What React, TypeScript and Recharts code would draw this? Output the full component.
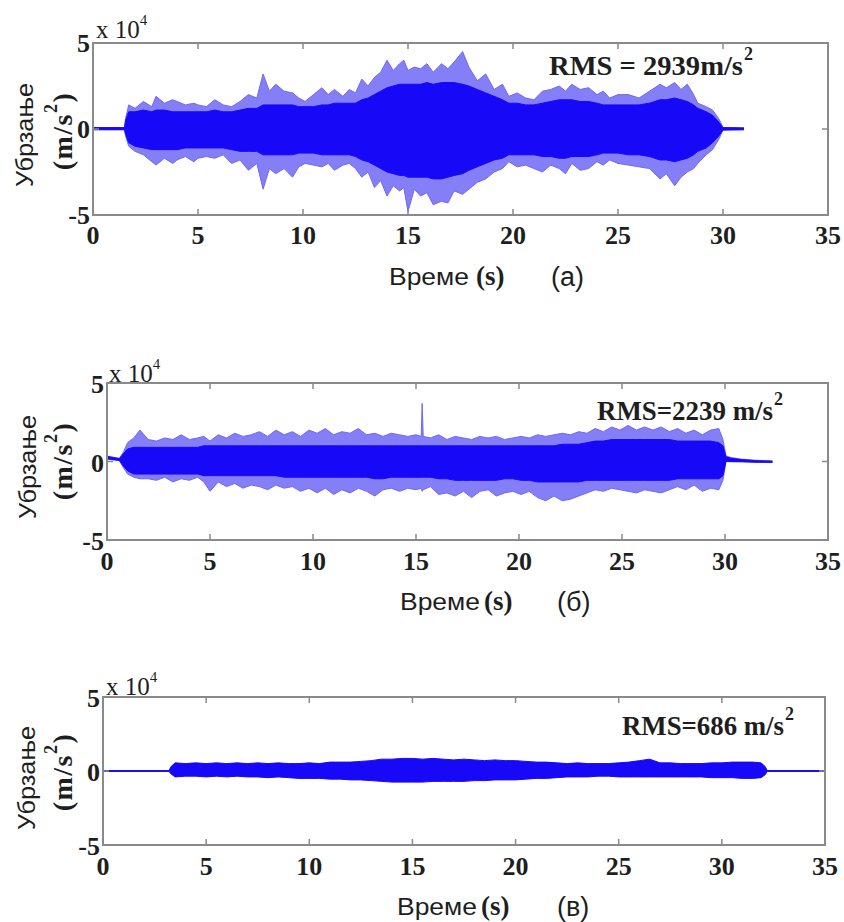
import React from 'react';
import { ComposedChart, Area, XAxis, YAxis, ReferenceArea } from 'recharts';

// ---------- Panel (а) : values in units of 10^4 m/s^2 ----------
const timeA = [
  0, 1.5, 1.55, 1.7, 2.0, 2.4, 2.8, 3.0, 3.4, 3.8,
  4.0, 4.4, 4.8, 5.0, 5.4, 5.8, 6.2, 6.6, 7.0, 7.4,
  7.8, 8.1, 8.4, 8.7, 9.1, 9.5, 9.8, 10.1, 10.5, 10.9,
  11.2, 11.5, 11.9, 12.2, 12.5, 12.8, 13.1, 13.4, 13.7, 14.0,
  14.3, 14.6, 14.8, 15.0, 15.3, 15.6, 15.9, 16.2, 16.6, 16.9,
  17.2, 17.6, 17.9, 18.3, 18.7, 19.1, 19.5, 19.8, 20.2, 20.6,
  21.0, 21.4, 21.8, 22.2, 22.5, 22.8, 23.2, 23.6, 24.0, 24.3,
  24.6, 25.0, 25.5, 26.0, 26.5, 27.0, 27.3, 27.7, 28.0, 28.3,
  28.6, 28.8, 29.2, 29.5, 29.8, 30.0, 31.0,
];
const peakHighA = [
  0.08, 0.08, 0.6, 1.4, 1.2, 1.6, 1.3, 1.9, 1.5, 1.7,
  1.6, 1.4, 1.5, 1.4, 1.3, 1.7, 1.4, 1.3, 1.6, 2.0,
  1.8, 3.2, 2.2, 2.6, 2.2, 2.1, 1.8, 1.6, 2.0, 2.4,
  2.0, 2.3, 1.9, 2.3, 2.1, 2.9, 2.5, 3.0, 3.3, 4.0,
  3.4, 3.8, 4.0, 3.4, 3.6, 3.5, 3.8, 3.3, 3.8, 3.5,
  3.9, 4.5, 3.6, 2.8, 3.2, 2.3, 2.6, 1.9, 2.1, 1.8,
  1.7, 2.2, 2.3, 2.5, 2.2, 2.6, 2.3, 2.4, 2.0, 2.2,
  1.8, 2.0, 2.0, 1.8, 2.2, 2.6, 2.4, 2.7, 2.3, 2.6,
  2.0, 1.5, 1.3, 1.1, 0.6, 0.08, 0.06,
];
const peakLowA = [
  -0.04, -0.04, -0.4, -1.0, -1.3, -1.5, -1.9, -2.1, -1.7, -2.0,
  -1.8, -1.6, -1.9, -1.7, -1.6, -1.7, -1.5, -2.0, -1.8, -2.4,
  -2.0, -3.5, -2.3, -2.6, -2.3, -2.8, -2.2, -2.0, -2.1, -2.2,
  -2.0, -2.4, -2.1, -2.0, -2.3, -2.8, -2.5, -3.4, -3.0, -3.9,
  -3.3, -3.6, -3.4, -4.8, -3.5, -3.9, -3.7, -4.4, -4.2, -4.3,
  -3.6, -3.8, -3.5, -3.1, -2.9, -2.5, -2.3, -1.9, -2.2, -2.1,
  -2.3, -2.5, -2.1, -2.3, -2.6, -2.0, -2.4, -2.3, -1.9, -2.1,
  -1.8, -2.0, -2.1, -2.2, -2.3, -2.9, -2.6, -3.3, -2.8, -2.5,
  -2.3, -2.0, -1.5, -1.2, -0.6, -0.06, -0.04,
];
const bandHighA = [
  0.08, 0.08, 0.5, 1.0, 1.0, 1.1, 1.0, 1.1, 1.1, 1.0,
  1.0, 1.0, 1.0, 1.0, 1.0, 1.1, 1.0, 1.0, 1.1, 1.2,
  1.2, 1.4, 1.4, 1.4, 1.4, 1.4, 1.3, 1.3, 1.3, 1.4,
  1.4, 1.5, 1.5, 1.5, 1.5, 1.7, 1.8, 2.0, 2.2, 2.4,
  2.5, 2.6, 2.6, 2.6, 2.6, 2.6, 2.7, 2.6, 2.7, 2.7,
  2.7, 2.6, 2.5, 2.3, 2.1, 1.9, 1.7, 1.5, 1.5, 1.4,
  1.4, 1.5, 1.6, 1.7, 1.7, 1.7, 1.6, 1.6, 1.5, 1.4,
  1.4, 1.4, 1.4, 1.4, 1.5, 1.7, 1.7, 1.8, 1.7, 1.6,
  1.4, 1.2, 1.0, 0.8, 0.4, 0.08, 0.06,
];
const bandLowA = [
  -0.04, -0.04, -0.3, -0.8, -1.0, -1.1, -1.2, -1.2, -1.2, -1.2,
  -1.2, -1.1, -1.1, -1.1, -1.1, -1.1, -1.1, -1.2, -1.3, -1.3,
  -1.3, -1.5, -1.5, -1.5, -1.5, -1.5, -1.4, -1.4, -1.4, -1.5,
  -1.5, -1.5, -1.5, -1.5, -1.6, -1.8, -1.9, -2.1, -2.3, -2.5,
  -2.6, -2.7, -2.7, -2.8, -2.8, -2.8, -2.8, -2.9, -2.9, -2.8,
  -2.7, -2.6, -2.4, -2.2, -2.0, -1.8, -1.7, -1.5, -1.5, -1.5,
  -1.5, -1.6, -1.6, -1.7, -1.7, -1.6, -1.6, -1.6, -1.5, -1.4,
  -1.4, -1.4, -1.5, -1.5, -1.6, -1.8, -1.8, -1.9, -1.8, -1.7,
  -1.5, -1.3, -1.1, -0.8, -0.4, -0.06, -0.04,
];

// ---------- Panel (б) ----------
const timeB = [
  0, 0.6, 0.8, 1.0, 1.3, 1.6, 2.0, 2.4, 2.8, 3.2,
  3.6, 4.0, 4.4, 4.7, 5.0, 5.4, 5.8, 6.2, 6.6, 7.0,
  7.4, 7.8, 8.2, 8.6, 9.0, 9.4, 9.8, 10.2, 10.6, 11.0,
  11.4, 11.8, 12.2, 12.6, 13.0, 13.4, 13.8, 14.2, 14.6, 15.0,
  15.25, 15.3, 15.35, 15.7, 16.1, 16.5, 16.9, 17.3, 17.7, 18.1,
  18.5, 18.9, 19.3, 19.7, 20.1, 20.5, 20.9, 21.3, 21.7, 22.1,
  22.5, 22.9, 23.3, 23.7, 24.1, 24.5, 24.9, 25.3, 25.7, 26.1,
  26.5, 26.9, 27.3, 27.7, 28.1, 28.5, 28.9, 29.3, 29.7, 29.9,
  30.05, 30.3, 30.8, 31.5, 32.3,
];
const peakHighB = [
  0.35, 0.2, 0.6, 1.2, 1.5, 2.0, 1.4, 1.3, 1.5, 1.4,
  1.7, 1.4, 1.5, 1.6, 1.3, 1.7, 1.5, 1.8, 1.6, 1.7,
  1.9, 1.6, 2.0, 1.7, 1.9, 1.6, 2.0, 1.8, 2.1, 1.7,
  1.9, 1.8, 2.1, 1.7, 1.8, 1.6, 1.8, 1.7, 1.6, 1.7,
  1.6, 3.7, 1.6, 1.5, 1.7, 1.4, 1.6, 1.5, 1.4, 1.6,
  1.5, 1.6, 1.4, 1.5, 1.6, 1.5, 1.7, 1.6, 1.7, 1.8,
  1.7, 1.9, 1.8, 2.1, 1.9, 2.2, 2.0, 2.3, 2.0, 2.2,
  2.0, 2.2, 1.9, 2.1, 1.8, 2.0, 1.7, 2.0, 2.1, 1.4,
  0.35, 0.25, 0.15, 0.08, 0.04,
];
const peakLowB = [
  0.15, 0.05, -0.4, -0.8, -1.0, -1.1, -1.1, -1.2, -1.0, -1.3,
  -1.1, -1.2, -1.0, -1.3, -1.9, -1.3, -1.6, -1.4, -1.7, -1.5,
  -1.6, -1.8, -1.5, -1.7, -1.6, -1.9, -1.7, -2.0, -1.7, -2.1,
  -1.8, -2.0, -1.7, -1.9, -2.2, -1.8, -1.7, -1.9, -1.7, -1.8,
  -1.7, -1.9, -1.8, -1.6, -2.1, -2.0, -2.2, -1.9, -2.3, -1.9,
  -1.8, -2.2, -2.0, -1.9, -2.1, -1.9, -2.3, -2.5, -2.2, -2.5,
  -2.4, -2.2, -2.0, -1.8, -1.9, -1.7, -1.8, -1.9, -2.0, -1.8,
  -1.9, -2.0, -1.8, -1.6, -1.8, -1.5, -1.9, -1.7, -1.8, -1.2,
  0.0, -0.02, -0.02, -0.05, -0.06,
];
const bandHighB = [
  0.32, 0.18, 0.5, 0.8, 0.9, 0.9, 0.9, 0.9, 0.9, 0.9,
  0.9, 0.9, 0.9, 1.0, 1.0, 1.0, 1.0, 1.0, 1.0, 1.0,
  1.0, 1.0, 1.0, 1.0, 1.0, 1.0, 1.0, 1.0, 1.0, 1.0,
  1.0, 1.0, 1.0, 1.0, 1.0, 1.0, 1.0, 1.0, 1.0, 1.0,
  1.0, 1.0, 1.0, 1.0, 1.0, 1.0, 1.0, 1.0, 1.0, 1.0,
  1.0, 1.0, 1.0, 1.0, 1.0, 1.0, 1.0, 1.0, 1.0, 1.1,
  1.1, 1.1, 1.2, 1.3, 1.3, 1.4, 1.4, 1.4, 1.4, 1.4,
  1.4, 1.4, 1.4, 1.3, 1.3, 1.3, 1.3, 1.3, 1.2, 1.0,
  0.3, 0.2, 0.12, 0.05, 0.02,
];
const bandLowB = [
  0.18, 0.07, -0.3, -0.6, -0.8, -0.8, -0.8, -0.8, -0.8, -0.8,
  -0.8, -0.8, -0.8, -0.9, -0.9, -0.9, -0.9, -0.9, -0.9, -0.9,
  -0.9, -0.9, -0.9, -1.0, -1.0, -1.0, -1.0, -1.0, -1.0, -1.0,
  -1.0, -1.0, -1.0, -1.0, -1.1, -1.1, -1.0, -1.0, -1.0, -1.0,
  -1.0, -1.0, -1.0, -1.0, -1.1, -1.1, -1.2, -1.2, -1.2, -1.2,
  -1.2, -1.2, -1.1, -1.1, -1.2, -1.2, -1.3, -1.3, -1.3, -1.3,
  -1.3, -1.3, -1.2, -1.2, -1.2, -1.2, -1.2, -1.2, -1.2, -1.2,
  -1.2, -1.2, -1.2, -1.1, -1.1, -1.1, -1.1, -1.1, -1.1, -0.9,
  0.02, 0.0, -0.01, -0.04, -0.05,
];

// ---------- Panel (в) ----------
const timeC = [
  0, 3.2, 3.3, 3.5, 4.0, 4.5, 5.0, 5.5, 6.0, 6.5,
  7.0, 7.5, 8.0, 8.5, 9.0, 9.5, 10.0, 10.5, 11.0, 11.5,
  12.0, 12.5, 13.0, 13.5, 14.0, 14.5, 15.0, 15.5, 16.0, 16.5,
  17.0, 17.5, 18.0, 18.5, 19.0, 19.5, 20.0, 20.5, 21.0, 21.5,
  22.0, 22.5, 23.0, 23.5, 24.0, 24.5, 25.0, 25.5, 26.0, 26.5,
  27.0, 27.5, 28.0, 28.5, 29.0, 29.5, 30.0, 30.5, 31.0, 31.5,
  31.9, 32.1, 32.2, 35,
];
const peakHighC = [
  0.03, 0.03, 0.3, 0.55, 0.5, 0.55, 0.5, 0.55, 0.5, 0.55,
  0.5, 0.55, 0.5, 0.55, 0.5, 0.5, 0.55, 0.5, 0.6, 0.6,
  0.6, 0.65, 0.7, 0.8, 0.8, 0.85, 0.85, 0.8, 0.85, 0.8,
  0.75, 0.8, 0.75, 0.7, 0.75, 0.7, 0.7, 0.65, 0.6, 0.6,
  0.55, 0.5, 0.55, 0.5, 0.5, 0.5, 0.55, 0.6, 0.7, 0.8,
  0.55, 0.55, 0.5, 0.5, 0.5, 0.55, 0.55, 0.6, 0.6, 0.6,
  0.55, 0.3, 0.03, 0.03,
];
const peakLowC = [
  -0.03, -0.03, -0.2, -0.4, -0.35, -0.35, -0.4, -0.35, -0.4, -0.35,
  -0.4, -0.4, -0.45, -0.4, -0.45, -0.5, -0.5, -0.5, -0.55, -0.55,
  -0.6, -0.6, -0.65, -0.7, -0.75, -0.75, -0.75, -0.75, -0.7, -0.7,
  -0.7, -0.7, -0.65, -0.65, -0.6, -0.6, -0.6, -0.55, -0.5, -0.5,
  -0.45, -0.4, -0.4, -0.4, -0.35, -0.35, -0.4, -0.4, -0.4, -0.4,
  -0.4, -0.4, -0.4, -0.4, -0.4, -0.45, -0.45, -0.45, -0.5, -0.5,
  -0.45, -0.25, -0.03, -0.03,
];

const xTicks = [0, 5, 10, 15, 20, 25, 30, 35];
const yTicks = [-5, 0, 5];

const BLUE_CORE = '#1808f8';
const BLUE_OUTER = '#6e68f6';
const BOX = '#8a8a8a';
const INK = '#1e1e1e';
const SERIF = "'Liberation Serif', 'Times New Roman', serif";
const SANS = "'Liberation Sans', Arial, sans-serif";

type Box = { left: number; right: number; top: number; bottom: number };

function buildRows(t: number[], hi: number[], lo: number[], bhi?: number[], blo?: number[]) {
  return t.map((time, i) => ({
    t: time,
    outer: [lo[i], hi[i]],
    core: bhi && blo ? [blo[i], bhi[i]] : null,
  }));
}

function Panel(props: {
  top: number;
  height: number;
  box: Box;
  rows: any[];
  hasCore: boolean;
  tickFont: number;
  xTickMargin: number;
  yShift: number;
  outerColor: string;
  outerOpacity: number;
}) {
  const { top, height, box, rows, hasCore, tickFont, xTickMargin, yShift, outerColor, outerOpacity } = props;
  const yAxisW = 40;
  const xAxisH = 30;
  const relTop = box.top - top;
  const relBottom = box.bottom - top;
  const margin = {
    top: relTop,
    left: box.left - yAxisW,
    right: 844 - box.right,
    bottom: height - relBottom - xAxisH,
  };

  const xTick = (p: any) => {
    const { x, y, payload } = p;
    return (
      <g>
        <line x1={x} x2={x} y1={relBottom} y2={relBottom - 6} stroke={BOX} strokeWidth={1.5} />
        <line x1={x} x2={x} y1={relTop} y2={relTop + 6} stroke={BOX} strokeWidth={1.5} />
        <text x={x} y={y} dy="0.71em" textAnchor="middle" fontFamily={SERIF} fontWeight="bold" fontSize={tickFont} fill={INK}>
          {payload.value}
        </text>
      </g>
    );
  };
  const yTick = (p: any) => {
    const { y, payload } = p;
    return (
      <g>
        <line x1={box.left} x2={box.left + 6} y1={y} y2={y} stroke={BOX} strokeWidth={1.5} />
        <line x1={box.right} x2={box.right - 6} y1={y} y2={y} stroke={BOX} strokeWidth={1.5} />
        <text x={box.left - 3} y={y + yShift} dy="0.35em" textAnchor="end" fontFamily={SERIF} fontWeight="bold" fontSize={tickFont} fill={INK}>
          {payload.value}
        </text>
      </g>
    );
  };

  return (
    <div style={{ position: 'absolute', left: 0, top, width: 844, height }}>
      <ComposedChart width={844} height={height} data={rows} margin={margin}>
        <XAxis
          dataKey="t"
          type="number"
          domain={[0, 35]}
          ticks={xTicks}
          interval={0}
          height={xAxisH}
          tickSize={0}
          tickMargin={xTickMargin}
          axisLine={false}
          tickLine={false}
          tick={xTick}
          allowDataOverflow
        />
        <YAxis
          type="number"
          domain={[-5, 5]}
          ticks={yTicks}
          interval={0}
          width={yAxisW}
          tickSize={0}
          tickMargin={2}
          axisLine={false}
          tickLine={false}
          tick={yTick}
          allowDataOverflow
        />
        <Area
          type="linear"
          dataKey="outer"
          stroke={outerColor}
          strokeWidth={1}
          fill={outerColor}
          fillOpacity={outerOpacity}
          isAnimationActive={false}
          dot={false}
          activeDot={false}
        />
        {hasCore && (
          <Area
            type="linear"
            dataKey="core"
            stroke={BLUE_CORE}
            strokeWidth={1}
            fill={BLUE_CORE}
            fillOpacity={1}
            isAnimationActive={false}
            dot={false}
            activeDot={false}
          />
        )}
        <ReferenceArea x1={0} x2={35} y1={-5} y2={5} fill="none" fillOpacity={0} stroke={BOX} strokeWidth={2} ifOverflow="visible" />
      </ComposedChart>
    </div>
  );
}

function PanelText(props: {
  yLabelX: number; yLabelY: number; unitX: number; unitY: number;
  expX: number; expY: number;
  rmsX: number; rmsY: number; rmsText: string; rmsSize: number; rmsLen: number;
  xLabX: number; xLabY: number; sX: number; tagX: number; tag: string;
}) {
  const p = props;
  return (
    <g>
      <text x={p.yLabelX} y={p.yLabelY} transform={`rotate(-90 ${p.yLabelX} ${p.yLabelY})`} textAnchor="middle" dominantBaseline="central" fontFamily={SANS} fontSize={24} fill={INK} textLength={104} lengthAdjust="spacingAndGlyphs">
        Убрзање
      </text>
      <text x={p.unitX} y={p.unitY} transform={`rotate(-90 ${p.unitX} ${p.unitY})`} textAnchor="middle" dominantBaseline="central" fontFamily={SERIF} fontWeight="bold" fontSize={28} letterSpacing={1.5} fill={INK}>
        (m/s<tspan dy={-11} fontSize={18}>2</tspan><tspan dy={11}>)</tspan>
      </text>
      <text x={p.expX} y={p.expY} fontFamily={SERIF} fontSize={25} fill={INK}>
        x 10<tspan dy={-13} fontSize={15}>4</tspan>
      </text>
      <text x={p.rmsX} y={p.rmsY} fontFamily={SERIF} fontWeight="bold" fontSize={p.rmsSize} fill={INK} textLength={p.rmsLen} lengthAdjust="spacingAndGlyphs">
        {p.rmsText}
      </text>
      <text x={p.rmsX + p.rmsLen + 1} y={p.rmsY - 15} fontFamily={SERIF} fontWeight="bold" fontSize={18} fill={INK}>
        2
      </text>
      <text x={p.xLabX} y={p.xLabY} fontFamily={SANS} fontSize={24} fill={INK} textLength={80} lengthAdjust="spacingAndGlyphs">
        Време
      </text>
      <text x={p.sX} y={p.xLabY} fontFamily={SERIF} fontWeight="bold" fontSize={27} fill={INK}>
        (s)
      </text>
      <text x={p.tagX} y={p.xLabY + 1} fontFamily={SANS} fontSize={27} fill={INK}>
        {p.tag}
      </text>
    </g>
  );
}

export default function App() {
  const rowsA = buildRows(timeA, peakHighA, peakLowA, bandHighA, bandLowA);
  const rowsB = buildRows(timeB, peakHighB, peakLowB, bandHighB, bandLowB);
  const rowsC = buildRows(timeC, peakHighC, peakLowC);

  return (
    <div style={{ position: 'absolute', left: 0, top: 0, width: 844, height: 922, background: '#ffffff', overflow: 'hidden' }}>
      <Panel top={0} height={250} box={{ left: 93, right: 828, top: 43, bottom: 215 }} rows={rowsA} hasCore tickFont={26} xTickMargin={11} yShift={0} outerColor={BLUE_OUTER} outerOpacity={0.85} />
      <Panel top={330} height={250} box={{ left: 107, right: 828, top: 383, bottom: 540 }} rows={rowsB} hasCore tickFont={26} xTickMargin={12} yShift={1} outerColor={BLUE_OUTER} outerOpacity={0.85} />
      <Panel top={650} height={250} box={{ left: 103, right: 825, top: 697, bottom: 845 }} rows={rowsC} hasCore={false} tickFont={26} xTickMargin={12} yShift={1} outerColor={BLUE_CORE} outerOpacity={1} />
      <svg width={844} height={922} style={{ position: 'absolute', left: 0, top: 0, pointerEvents: 'none' }}>
        <PanelText yLabelX={24} yLabelY={135} unitX={62} unitY={131} expX={96} expY={38}
          rmsX={549} rmsY={75} rmsText="RMS = 2939m/s" rmsSize={28} rmsLen={194}
          xLabX={389} xLabY={285} sX={476} tagX={551} tag="(a)" />
        <PanelText yLabelX={27} yLabelY={467} unitX={62} unitY={461} expX={109} expY={382}
          rmsX={597} rmsY={420} rmsText="RMS=2239 m/s" rmsSize={27} rmsLen={176}
          xLabX={400} xLabY={610} sX={484} tagX={557} tag="(б)" />
        <PanelText yLabelX={26} yLabelY={778} unitX={62} unitY={772} expX={106} expY={695}
          rmsX={622} rmsY={735} rmsText="RMS=686 m/s" rmsSize={27} rmsLen={162}
          xLabX={397} xLabY={915} sX={481} tagX={557} tag="(в)" />
      </svg>
    </div>
  );
}
